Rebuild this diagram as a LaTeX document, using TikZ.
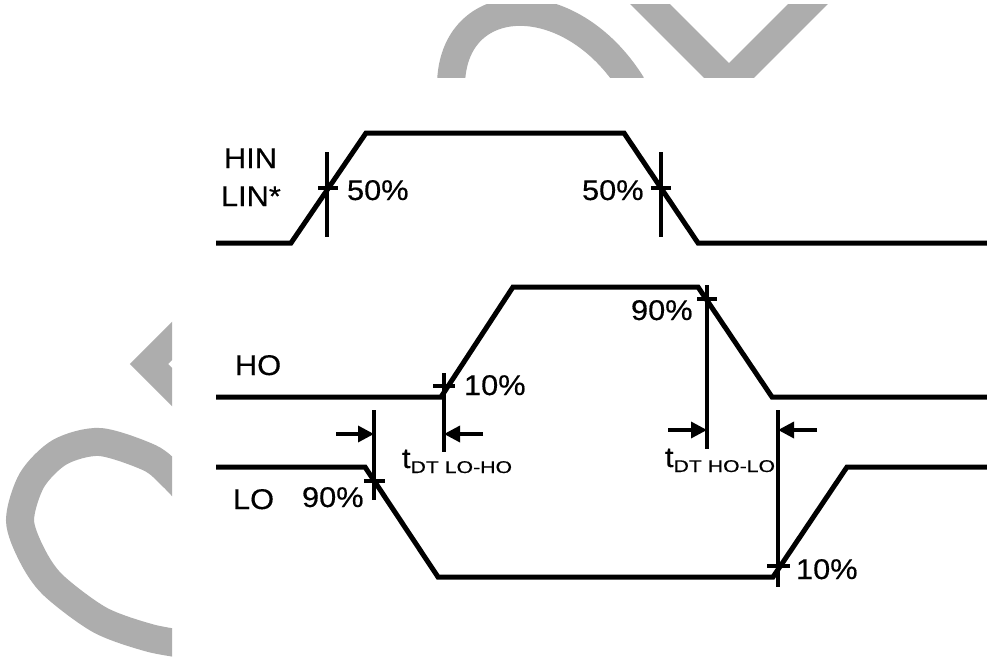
\documentclass[tikz,border=0pt]{standalone}
\usepackage{fontspec}
\setmainfont[FakeStretch=1.08,FakeBold=0.4]{Liberation Sans}
\newfontfamily\subfont[FakeStretch=1.25,FakeBold=0.3]{Liberation Sans}
\usetikzlibrary{arrows.meta}
\definecolor{wm}{HTML}{ADADAD}
\begin{document}
\begin{tikzpicture}[x=1pt,y=-1pt,
  wave/.style={line width=5pt},
  markline/.style={line width=3.4pt},
  thinline/.style={line width=3.1pt},
  dimarrow/.style={line width=3.4pt,-{Triangle[length=16pt,width=16pt]}},
  lbl/.style={anchor=base west,inner sep=0pt,outer sep=0pt,font=\fontsize{28.5}{30}\selectfont},
  wmark/.style={draw=wm}
]
\useasboundingbox (0,0) rectangle (987,658);
\fill[white] (0,0) rectangle (987,658);

% watermark
\begin{scope}
  \clip (0,5) rectangle (987,78);
  \draw[wmark,line width=28pt] (451,85) .. controls (452,-10) and (570,-15) .. (632,85);
  \draw[wmark,line width=28pt,miter limit=10] (636,-10) -- (729,83) -- (822,-10);
\end{scope}
\begin{scope}
  \clip (0,300) rectangle (172,658);
  \draw[wmark,line width=27pt,miter limit=10] (200,313) -- (149,364) -- (200,415);
  \draw[wmark,line width=28pt] plot[smooth] coordinates {(190,495) (172,476) (150,458) (100,442) (60,452) (32,480) (20,520) (32,555) (53,585) (100,620) (150,638) (190,645)};
\end{scope}

% waveforms
\draw[wave] (216,243) -- (291,243) -- (366,133) -- (624,133) -- (698,243) -- (987,243);
\draw[wave] (216,397) -- (441,397) -- (513,287) -- (698,287) -- (772,397) -- (987,397);
\draw[wave] (216,467) -- (365,467) -- (438,577) -- (773,577) -- (847,467) -- (987,467);

% marker lines
\coordinate (m1t) at (327,152); \coordinate (m1b) at (327,237);
\draw[markline] (m1t) -- (m1b);
\draw[markline] (318,188) -- (338,188);
\coordinate (m2t) at (661,152); \coordinate (m2b) at (661,237);
\draw[markline] (m2t) -- (m2b);
\draw[markline] (651,188) -- (671,188);
\coordinate (m3t) at (444,373); \coordinate (m3b) at (444,452); \coordinate (m3a) at (444,434);
\draw[markline] (m3t) -- (m3b);
\draw[markline] (433,386) -- (455,386);
\coordinate (m4t) at (707,285); \coordinate (m4b) at (707,449); \coordinate (m4a) at (707,430);
\draw[markline] (m4t) -- (m4b);
\draw[markline] (697,299) -- (717,299);
\coordinate (m5t) at (374,410); \coordinate (m5b) at (374,500); \coordinate (m5a) at (374,434);
\draw[markline] (m5t) -- (m5b);
\draw[markline] (364,481) -- (385,481);
\coordinate (m6t) at (778,410); \coordinate (m6b) at (778,587); \coordinate (m6a) at (778,430);
\draw[thinline] (m6t) -- (m6b);
\draw[markline] (767,566) -- (790,566);

% dead-time arrows
\coordinate (a1) at (336,434);
\coordinate (a2) at (483,434);
\coordinate (a3) at (668,430);
\coordinate (a4) at (817,430);
\draw[dimarrow] (a1) -- (m5a);
\draw[dimarrow] (a2) -- (m3a);
\draw[dimarrow] (a3) -- (m4a);
\draw[dimarrow] (a4) -- (m6a);

% labels
\node[lbl] (hin) at (224,168) {HIN};
\node[lbl] (lin) at (221,206) {LIN*};
\node[lbl] (p50a) at (347,200) {50\%};
\node[lbl] (p50b) at (582,200) {50\%};
\node[lbl] (ho) at (235,375) {HO};
\node[lbl] (p90a) at (631,320) {90\%};
\node[lbl] (p10a) at (464,395) {10\%};
\node[lbl] (lo) at (233,509) {LO};
\node[lbl] (p90b) at (302,507) {90\%};
\node[lbl] (p10b) at (796,579) {10\%};
\node[lbl] (tdta) at (402,468) {t\raisebox{-5pt}{\subfont\fontsize{17}{19}\selectfont DT LO-HO}};
\node[lbl] (tdtb) at (665,467) {t\raisebox{-5pt}{\subfont\fontsize{17}{19}\selectfont DT HO-LO}};
\end{tikzpicture}
\end{document}
